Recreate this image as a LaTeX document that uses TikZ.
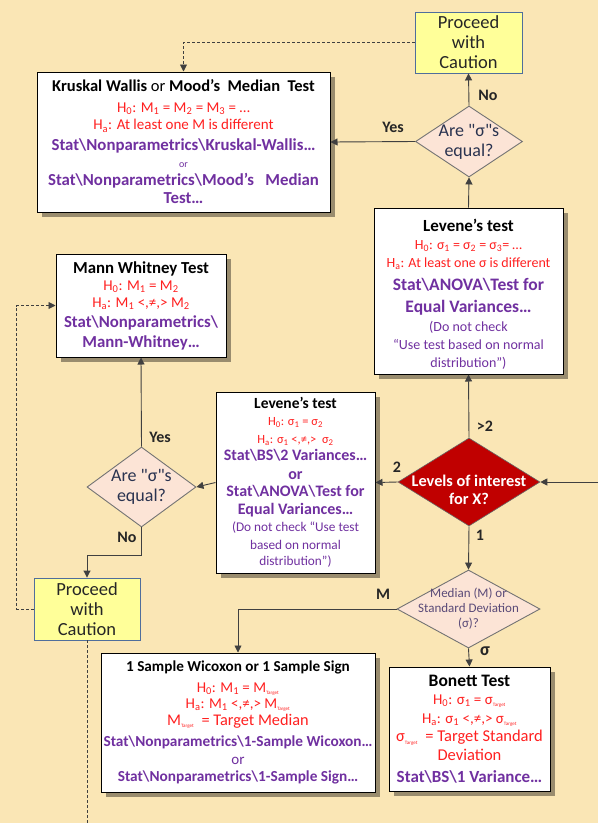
\documentclass[tikz,border=0pt]{standalone}
\usepackage{fontspec}
\setmainfont{Carlito}[Ligatures=TeXOff]
\usetikzlibrary{arrows.meta,shapes.geometric,shadows}
\definecolor{bg}{HTML}{FAE6B5}
\definecolor{redt}{HTML}{FF2020}
\definecolor{purp}{HTML}{7030A0}
\definecolor{yel}{HTML}{FFFF99}
\definecolor{yelb}{HTML}{4F6E9C}
\definecolor{peach}{HTML}{FCE4D6}
\definecolor{dred}{HTML}{C00000}
\definecolor{navy}{HTML}{2A3350}
\definecolor{lnk}{HTML}{404040}
\definecolor{mdtxt}{HTML}{5A4A78}
\newcommand{\fs}[2]{\fontsize{#1}{#2}\selectfont}
\newcommand{\rd}[1]{{\color{redt}#1}}
\newcommand{\bs}{\textbackslash}
\newcommand{\tg}{\textsubscript{\tiny Target}}
\begin{document}
\begin{tikzpicture}[x=1pt,y=-1pt,
  box/.style={draw=black,line width=1pt,fill=white,rectangle,inner sep=0pt,align=center,
    drop shadow={shadow xshift=5pt,shadow yshift=-5pt,fill=black!55!bg,opacity=0.7}},
  caut/.style={draw=yelb,line width=0.9pt,fill=yel,rectangle,inner sep=0pt,align=center,
    text=black!85,font=\fs{18.5}{20}},
  dq/.style={draw=black!55,line width=0.9pt,fill=peach,diamond,inner sep=-20pt,align=center,
    text=navy,font=\fs{18}{20}},
  lbl/.style={font=\fs{16}{16}\bfseries,text=black!85,inner sep=0pt},
  arr/.style={draw=lnk,line width=0.9pt,-{Triangle[width=7pt,length=7pt]}},
  ln/.style={draw=lnk,line width=0.9pt},
  dsh/.style={dash pattern=on 3pt off 2pt}]
\useasboundingbox (0,0) rectangle (598,823);
\fill[bg] (0,0) rectangle (598,823);

% nodes
\node[caut,minimum width=107,minimum height=61] (pc1) at (468.5,42.5) {Proceed\\with\\Caution};
\node[dq,minimum width=107,minimum height=71] (dq1) at (469,141.5) {Are "σ"s\\equal?};
\node[box,minimum width=293,minimum height=140,font=\fs{15}{17.5}] (kw) at (183.5,142) {%
{\fs{16.5}{17}\bfseries Kruskal Wallis \mdseries or \bfseries Mood’s\ \ Median\ \ Test}\\[3pt]
\rd{H\textsubscript{0}: M\textsubscript{1} = M\textsubscript{2} = M\textsubscript{3} = …}\\
\rd{H\textsubscript{a}: At least one M is different}\\[3pt]
{\color{purp}\fs{16.8}{17}\bfseries Stat\bs Nonparametrics\bs Kruskal-Wallis…}\\
{\color{purp}\fs{10}{10}or}\\
{\color{purp}\fs{16.8}{17}\bfseries Stat\bs Nonparametrics\bs Mood’s\ \ \ Median}\\[1pt]
{\color{purp}\fs{16.8}{17}\bfseries Test…}};

\node[box,minimum width=189,minimum height=166,font=\fs{14}{18}] (levR) at (468.5,291) {%
{\fs{17}{17}\bfseries\rule{0pt}{18pt}Levene’s test}\\
\rd{H\textsubscript{0}: σ\textsubscript{1} = σ\textsubscript{2} = σ\textsubscript{3}= …}\\
\rd{H\textsubscript{a}: At least one σ is different}\\[5pt]
{\color{purp}\fs{17.5}{17}\bfseries Stat\bs ANOVA\bs Test for}\\[4pt]
{\color{purp}\fs{17.5}{17}\bfseries Equal Variances…}\\[1pt]
{\color{purp}\fs{14}{15}(Do not check}\\
{\color{purp}\fs{14}{15}“Use test based on normal}\\
{\color{purp}\fs{14}{15}distribution”)}};

\node[box,minimum width=170,minimum height=103,font=\fs{15}{17}] (mw) at (141,305.5) {%
{\fs{16.8}{17}\bfseries Mann Whitney Test}\\
\rd{H\textsubscript{0}: M\textsubscript{1} = M\textsubscript{2}}\\
\rd{H\textsubscript{a}: M\textsubscript{1} <,≠,> M\textsubscript{2}}\\[3pt]
{\color{purp}\fs{16.8}{17}\bfseries Stat\bs Nonparametrics\bs}\\[3pt]
{\color{purp}\fs{16.8}{17}\bfseries Mann-Whitney…}};

\node[box,minimum width=159,minimum height=181,font=\fs{12.5}{17.5}] (levL) at (295.5,482.5) {%
{\fs{15.5}{15}\bfseries Levene’s test}\\
\rd{H\textsubscript{0}: σ\textsubscript{1} = σ\textsubscript{2}}\\
\rd{H\textsubscript{a}: σ\textsubscript{1} <,≠,>\ \ σ\textsubscript{2}}\\
{\color{purp}\fs{16}{17}\bfseries Stat\bs BS\bs 2 Variances…}\\[1pt]
{\color{purp}\fs{16}{17}\bfseries or}\\
{\color{purp}\fs{16}{17}\bfseries Stat\bs ANOVA\bs Test for}\\
{\color{purp}\fs{16}{17}\bfseries Equal Variances…}\\
{\color{purp}\fs{13.3}{13}(Do not check “Use test}\\
{\color{purp}\fs{13.3}{13}based on normal}\\[-1pt]
{\color{purp}\fs{13.3}{13}distribution”)}};

\node[dq,minimum width=109,minimum height=80] (dq2) at (141.5,487) {Are "σ"s\\equal?};

\node[diamond,draw=black!60,line width=0.6pt,fill=dred,inner sep=0pt,minimum width=142,minimum height=88] (red) at (469,482) {};
\node[align=center,text=white,font=\fs{16.3}{18}\bfseries,inner sep=0pt] (redtx) at (469,490) {Levels of interest\\for X?};

\node[caut,minimum width=106,minimum height=62] (pc2) at (87,609) {Proceed\\with\\Caution};

\node[diamond,draw=black!55,line width=0.9pt,fill=peach,inner sep=-30pt,minimum width=143,minimum height=78,
  align=center,text=mdtxt,font=\fs{13}{15}] (md) at (468.5,609) {Median (M) or\\Standard Deviation\\(σ)?};

\node[box,minimum width=274,minimum height=139,font=\fs{15}{16.5}] (os) at (238,722.5) {%
{\fs{15.2}{16}\bfseries 1 Sample Wicoxon or 1 Sample Sign}\\[4pt]
\rd{H\textsubscript{0}: M\textsubscript{1} = M\tg}\\
\rd{H\textsubscript{a}: M\textsubscript{1} <,≠,> M\tg}\\
\rd{\fs{16.3}{16}M\tg\ \ = Target Median}\\[5pt]
{\color{purp}\fs{15.3}{16}\bfseries Stat\bs Nonparametrics\bs 1-Sample Wicoxon…}\\[1pt]
{\color{purp}\fs{15}{16}or}\\[1pt]
{\color{purp}\fs{15.3}{16}\bfseries Stat\bs Nonparametrics\bs 1-Sample Sign…}};

\node[box,minimum width=161,minimum height=124,font=\fs{15}{18.5}] (bon) at (469.5,729) {%
{\fs{17.5}{17}\bfseries Bonett Test}\\
\rd{H\textsubscript{0}: σ\textsubscript{1} = σ\tg}\\
\rd{H\textsubscript{a}: σ\textsubscript{1} <,≠,> σ\tg}\\
\rd{\fs{16.5}{16}σ\tg\ \ = Target Standard}\\
\rd{\fs{16.5}{16}Deviation}\\[4pt]
{\color{purp}\fs{17}{17}\bfseries Stat\bs BS\bs 1 Variance…}};

% connector end points
\coordinate (ein) at (598,482);
\coordinate (bot) at (87,823);

% connectors
\draw[arr] (ein) -- (red.east);
\draw[arr] (red.north) -- (levR.south);
\draw[arr] (levR.north) -- (dq1.south);
\draw[arr] (dq1.north) -- (pc1.south);
\draw[arr] (dq1.west) -- (kw.east);
\draw[arr,dsh] (pc1.west) -| (kw.north);
\draw[arr] (red.west) -- (levL.east);
\draw[arr] (levL.west) -- (dq2.east);
\draw[arr] (dq2.north) -- (mw.south);
\draw[arr] (dq2.south) -- ++(0,28) -| (pc2.north);
\draw[arr,dsh] (pc2.west) -- ++(-17,0) |- (mw.west);
\draw[ln,dsh] (pc2.south) -- (bot);
\draw[arr] (red.south) -- (md.north);
\draw[arr] (md.west) -| (os.north);
\draw[arr] (md.south) -- (bon.north);

% labels
\node[lbl] (lgt2) at (485,426) {>2};
\node[lbl] (lno1) at (488,95) {No};
\node[lbl] (lyes1) at (393,127) {Yes};
\node[lbl] (l2) at (397,467) {2};
\node[lbl] (lyes2) at (160,437) {Yes};
\node[lbl] (lno2) at (127,537) {No};
\node[lbl] (l1) at (480,535) {1};
\node[lbl] (lm) at (383,594) {M};
\node[lbl,font=\fs{18}{18}\bfseries] (lsig) at (485,651) {σ};
\end{tikzpicture}
\end{document}
